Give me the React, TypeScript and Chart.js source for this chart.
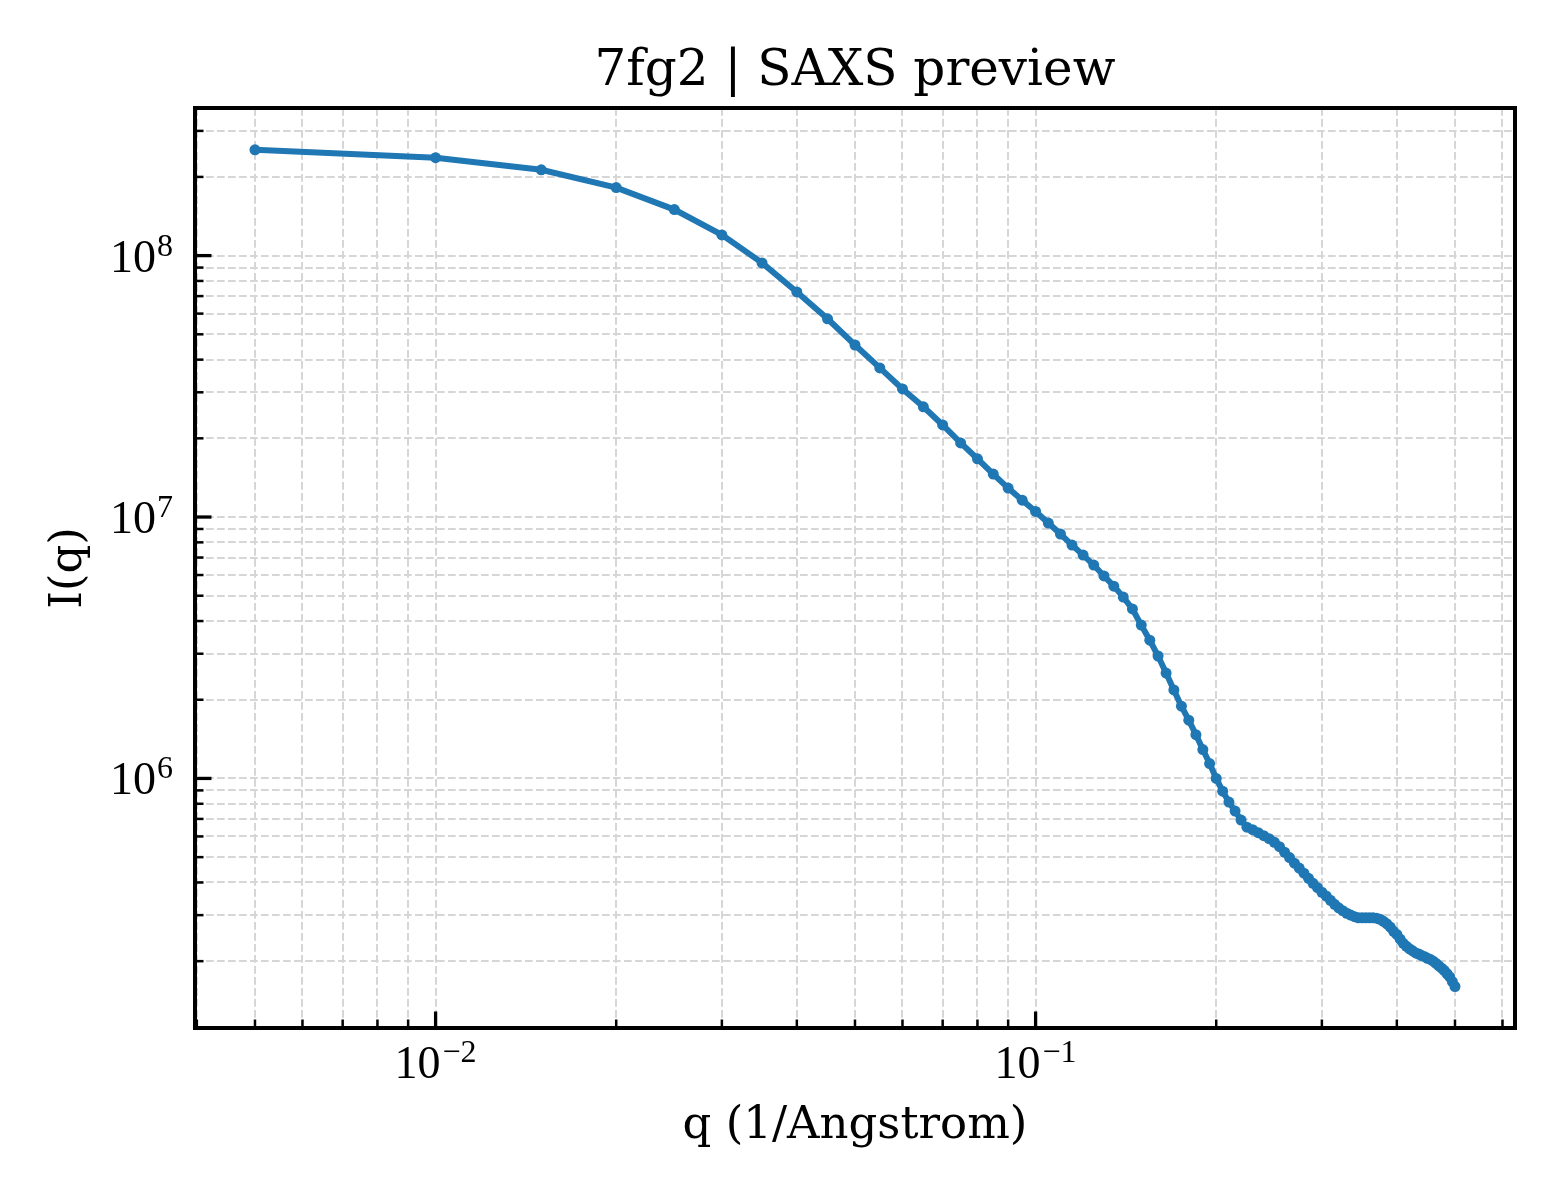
import React, { useEffect, useRef } from 'react';
import { Chart, registerables } from 'chart.js';

Chart.register(...registerables);

// scattering vector q (1/Angstrom)
const qValues = [
  0.005, 0.01, 0.015, 0.02, 0.025, 0.03, 0.035, 0.04, 0.045, 0.05,
  0.055, 0.06, 0.065, 0.07, 0.075, 0.08, 0.085, 0.09, 0.095, 0.1,
  0.105, 0.11, 0.115, 0.12, 0.125, 0.13, 0.135, 0.14, 0.145, 0.15,
  0.155, 0.16, 0.165, 0.17, 0.175, 0.18, 0.185, 0.19, 0.195, 0.2,
  0.205, 0.21, 0.215, 0.22, 0.225, 0.23, 0.235, 0.24, 0.245, 0.25,
  0.255, 0.26, 0.265, 0.27, 0.275, 0.28, 0.285, 0.29, 0.295, 0.3,
  0.305, 0.31, 0.315, 0.32, 0.325, 0.33, 0.335, 0.34, 0.345, 0.35,
  0.355, 0.36, 0.365, 0.37, 0.375, 0.38, 0.385, 0.39, 0.395, 0.4,
  0.405, 0.41, 0.415, 0.42, 0.425, 0.43, 0.435, 0.44, 0.445, 0.45,
  0.455, 0.46, 0.465, 0.47, 0.475, 0.48, 0.485, 0.49, 0.495, 0.5,
];

// intensity I(q)
const intensity = [
  2.54e8, 2.37e8, 2.13e8, 1.82e8, 1.5e8, 1.2e8, 9.38e7, 7.26e7, 5.73e7, 4.55e7,
  3.72e7, 3.09e7, 2.64e7, 2.25e7, 1.92e7, 1.67e7, 1.46e7, 1.29e7, 1.16e7, 1.05e7,
  9.48e6, 8.61e6, 7.81e6, 7.15e6, 6.55e6, 5.95e6, 5.44e6, 4.94e6, 4.45e6, 3.86e6,
  3.38e6, 2.94e6, 2.53e6, 2.18e6, 1.89e6, 1.67e6, 1.47e6, 1.29e6, 1.14e6, 1.0e6,
  8.94e5, 8.12e5, 7.5e5, 6.93e5, 6.51e5, 6.37e5, 6.2e5, 6.04e5, 5.88e5, 5.7e5,
  5.48e5, 5.22e5, 4.98e5, 4.74e5, 4.54e5, 4.34e5, 4.15e5, 3.97e5, 3.82e5, 3.67e5,
  3.55e5, 3.42e5, 3.3e5, 3.2e5, 3.12e5, 3.05e5, 3.0e5, 2.96e5, 2.93e5, 2.93e5,
  2.93e5, 2.93e5, 2.93e5, 2.92e5, 2.89e5, 2.84e5, 2.78e5, 2.7e5, 2.6e5, 2.53e5,
  2.43e5, 2.34e5, 2.28e5, 2.23e5, 2.19e5, 2.15e5, 2.13e5, 2.1e5, 2.08e5, 2.05e5,
  2.03e5, 2.0e5, 1.96e5, 1.92e5, 1.88e5, 1.84e5, 1.79e5, 1.74e5, 1.67e5, 1.6e5,
];

const xMajorTicks = [0.01, 0.1];
const xMajorExponents = ['\u22122', '\u22121'];
const xMinorTicks = [
  0.004, 0.005, 0.006, 0.007, 0.008, 0.009,
  0.02, 0.03, 0.04, 0.05, 0.06, 0.07, 0.08, 0.09,
  0.2, 0.3, 0.4, 0.5, 0.6,
];
const yMajorTicks = [1e6, 1e7, 1e8];
const yMajorExponents = ['6', '7', '8'];
const yMinorTicks = [
  2e5, 3e5, 4e5, 5e5, 6e5, 7e5, 8e5, 9e5,
  2e6, 3e6, 4e6, 5e6, 6e6, 7e6, 8e6, 9e6,
  2e7, 3e7, 4e7, 5e7, 6e7, 7e7, 8e7, 9e7,
  2e8, 3e8,
];

const X_MIN = 0.003972;
const X_MAX = 0.6295;
const Y_MIN = 1.11e5;
const Y_MAX = 3.67e8;

const LINE_BLUE = '#1f77b4';
const SERIF = "'DejaVu Serif', serif";
const TICK_FONT = "'Liberation Serif', serif";

// matplotlib-like frame, inward ticks and 10^n labels
const mplAxes = {
  id: 'mplAxes',
  afterDraw(chart: any) {
    const { ctx, chartArea: a, scales } = chart;
    const xs = scales.x;
    const ys = scales.y;
    ctx.save();
    ctx.strokeStyle = '#000';
    ctx.fillStyle = '#000';
    const seg = (x1: number, y1: number, x2: number, y2: number, w: number) => {
      ctx.lineWidth = w;
      ctx.beginPath();
      ctx.moveTo(x1, y1);
      ctx.lineTo(x2, y2);
      ctx.stroke();
    };
    xMinorTicks.forEach((v) => {
      const px = xs.getPixelForValue(v);
      seg(px, a.bottom, px, a.bottom - 8.5, 2.5);
    });
    xMajorTicks.forEach((v) => {
      const px = xs.getPixelForValue(v);
      seg(px, a.bottom, px, a.bottom - 16.5, 3.3);
    });
    yMinorTicks.forEach((v) => {
      const py = ys.getPixelForValue(v);
      seg(a.left, py, a.left + 8.5, py, 2.5);
    });
    yMajorTicks.forEach((v) => {
      const py = ys.getPixelForValue(v);
      seg(a.left, py, a.left + 16.5, py, 3.3);
    });

    ctx.lineWidth = 4;
    ctx.strokeRect(a.left, a.top, a.right - a.left, a.bottom - a.top);

    const mainFont = `46px ${TICK_FONT}`;
    const supFont = `32px ${TICK_FONT}`;
    ctx.textBaseline = 'alphabetic';
    ctx.textAlign = 'left';

    xMajorTicks.forEach((v, i) => {
      const px = xs.getPixelForValue(v);
      ctx.font = mainFont;
      const wMain = ctx.measureText('10').width;
      ctx.font = supFont;
      const wSup = ctx.measureText(xMajorExponents[i]).width;
      const x0 = px - (wMain + wSup + 2) / 2;
      const base = a.bottom + 50;
      ctx.font = mainFont;
      ctx.fillText('10', x0, base);
      ctx.font = supFont;
      ctx.fillText(xMajorExponents[i], x0 + wMain + 2, base - 16);
    });

    yMajorTicks.forEach((v, i) => {
      const py = ys.getPixelForValue(v);
      ctx.font = mainFont;
      const wMain = ctx.measureText('10').width;
      ctx.font = supFont;
      const wSup = ctx.measureText(yMajorExponents[i]).width;
      const right = a.left - 22;
      const x0 = right - wSup - wMain - 1;
      const base = py + 16;
      ctx.font = mainFont;
      ctx.fillText('10', x0, base);
      ctx.font = supFont;
      ctx.fillText(yMajorExponents[i], x0 + wMain + 1, base - 16);
    });
    ctx.restore();
  },
};

const gridStyle = {
  color: '#d6d6d6',
  lineWidth: 2,
  drawTicks: false,
};

const App: React.FC = () => {
  const chartRef = useRef<HTMLCanvasElement>(null);

  useEffect(() => {
    if (!chartRef.current) return;
    const ctx = chartRef.current.getContext('2d');
    if (!ctx) return;

    const chart = new Chart(ctx, {
      type: 'line',
      data: {
        datasets: [
          {
            label: 'I(q)',
            data: qValues.map((q, i) => ({ x: q, y: intensity[i] })),
            borderColor: LINE_BLUE,
            backgroundColor: LINE_BLUE,
            borderWidth: 6,
            pointRadius: 5.5,
            pointBorderWidth: 0,
            pointBackgroundColor: LINE_BLUE,
            tension: 0,
            fill: false,
          },
        ],
      },
      options: {
        animation: false,
        responsive: false,
        events: [],
        layout: { padding: { left: 0, right: 45, top: 0, bottom: 0 } },
        plugins: {
          legend: { display: false },
          tooltip: { enabled: false },
          title: {
            display: true,
            text: '7fg2 | SAXS preview',
            color: '#000',
            fullSize: false,
            font: { family: SERIF, size: 50, weight: 'normal' },
            padding: { top: 42, bottom: 6 },
          },
        },
        scales: {
          x: {
            type: 'logarithmic',
            min: X_MIN,
            max: X_MAX,
            afterBuildTicks: (scale: any) => {
              scale.ticks = [...xMinorTicks, ...xMajorTicks]
                .sort((p, q) => p - q)
                .map((v) => ({ value: v }));
            },
            afterFit: (scale: any) => {
              scale.height = 172;
            },
            ticks: { display: false, autoSkip: false },
            grid: gridStyle,
            border: { display: false, dash: [7.7, 3.3] },
            title: {
              display: true,
              text: 'q (1/Angstrom)',
              color: '#000',
              font: { family: SERIF, size: 45, weight: 'normal' },
              padding: { top: 0, bottom: 47 },
            },
          },
          y: {
            type: 'logarithmic',
            min: Y_MIN,
            max: Y_MAX,
            afterBuildTicks: (scale: any) => {
              scale.ticks = [...yMinorTicks, ...yMajorTicks]
                .sort((p, q) => p - q)
                .map((v) => ({ value: v }));
            },
            afterFit: (scale: any) => {
              scale.width = 195;
            },
            ticks: { display: false, autoSkip: false },
            grid: gridStyle,
            border: { display: false, dash: [7.7, 3.3] },
            title: {
              display: true,
              text: 'I(q)',
              color: '#000',
              font: { family: SERIF, size: 45, weight: 'normal' },
              padding: { top: 42.6, bottom: 0 },
            },
          },
        },
      },
      plugins: [mplAxes],
    } as any);

    return () => {
      chart.destroy();
    };
  }, []);

  return (
    <div style={{ position: 'absolute', left: 0, top: 0, width: 1560, height: 1200, background: '#fff' }}>
      <canvas ref={chartRef} width="1560" height="1200" style={{ display: 'block' }}></canvas>
    </div>
  );
};

export default App;
